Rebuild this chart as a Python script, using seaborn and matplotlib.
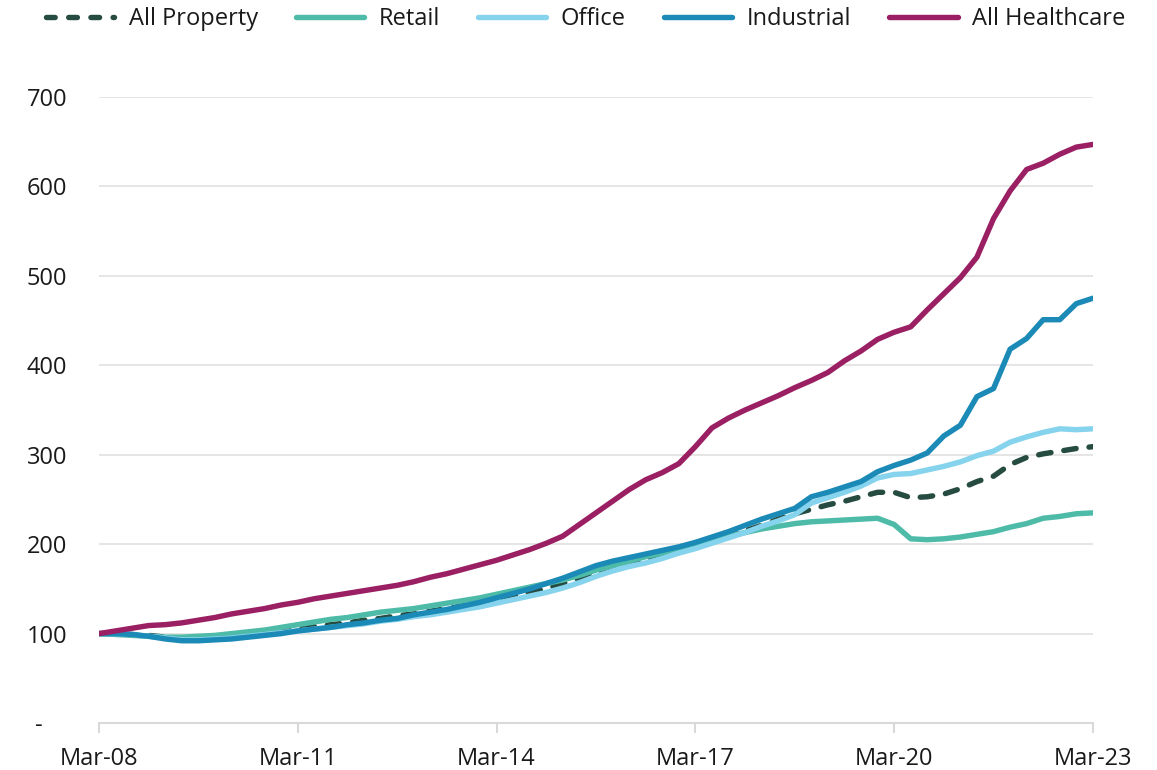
import matplotlib
matplotlib.use('Agg')
import matplotlib.pyplot as plt
import numpy as np
import pandas as pd
import seaborn as sns

# quarterly index values, Mar-08 = 100
quarters = list(range(61))
tick_pos = [0, 12, 24, 36, 48, 60]
tick_labels = ['Mar-08', 'Mar-11', 'Mar-14', 'Mar-17', 'Mar-20', 'Mar-23']

all_property = [100, 100, 99, 98, 96, 95, 95, 96, 97, 99, 101, 103, 105, 108, 110, 112,
                115, 117, 120, 122, 125, 128, 131, 134, 138, 142, 146, 150, 156, 162, 168,
                173, 178, 183, 187, 192, 197, 203, 209, 215, 221, 228, 234, 239, 244, 248,
                253, 258, 258, 252, 253, 256, 262, 270, 276, 289, 297, 301, 304, 307, 309]
retail = [100, 99, 98, 97, 96, 96, 97, 98, 100, 102, 104, 107, 110, 113, 116, 118,
          121, 124, 126, 128, 131, 134, 137, 140, 144, 148, 152, 156, 160, 165, 171,
          176, 181, 186, 190, 194, 198, 204, 209, 213, 217, 220, 223, 225, 226, 227,
          228, 229, 222, 206, 205, 206, 208, 211, 214, 219, 223, 229, 231, 234, 235]
office = [100, 100, 99, 97, 95, 93, 93, 94, 95, 97, 99, 101, 103, 105, 107, 109,
          111, 114, 116, 119, 121, 124, 127, 130, 134, 138, 142, 146, 151, 157, 164,
          170, 175, 179, 184, 190, 195, 201, 207, 213, 220, 226, 233, 246, 252, 258,
          265, 274, 278, 279, 283, 287, 292, 299, 304, 314, 320, 325, 329, 328, 329]
industrial = [100, 100, 99, 97, 94, 92, 92, 93, 94, 96, 98, 100, 103, 105, 107, 110,
              112, 115, 117, 121, 124, 127, 131, 135, 140, 145, 150, 156, 162, 169, 176,
              181, 185, 189, 193, 197, 202, 208, 214, 221, 228, 234, 240, 253, 258, 264,
              270, 281, 288, 294, 302, 321, 333, 365, 374, 418, 430, 451, 451, 469, 475]
healthcare = [100, 103, 106, 109, 110, 112, 115, 118, 122, 125, 128, 132, 135, 139, 142, 145,
              148, 151, 154, 158, 163, 167, 172, 177, 182, 188, 194, 201, 209, 222, 235,
              248, 261, 272, 280, 290, 309, 330, 341, 350, 358, 366, 375, 383, 392, 405,
              416, 429, 437, 443, 462, 480, 498, 521, 564, 595, 619, 626, 636, 644, 647]

series = {
    'All Property': all_property,
    'Retail': retail,
    'Office': office,
    'Industrial': industrial,
    'All Healthcare': healthcare,
}
colors = {
    'All Property': '#264b40',
    'Retail': '#4dbba8',
    'Office': '#86d3ed',
    'Industrial': '#1b8ab6',
    'All Healthcare': '#9a1f63',
}

df = pd.DataFrame({'quarter': quarters, **series})
long = df.melt(id_vars='quarter', var_name='sector', value_name='index')

sns.set_style('white')
plt.rcParams['font.family'] = ['Open Sans', 'DejaVu Sans']

fig = plt.figure(figsize=(11.57, 7.7), dpi=100)
ax = fig.add_axes([0.0856, 0.061, 0.859, 0.813])

sns.lineplot(data=long, x='quarter', y='index', hue='sector', palette=colors,
             hue_order=list(series.keys()), linewidth=3.9, ax=ax, legend=False)

for line, name in zip(ax.lines, series.keys()):
    line.set_solid_capstyle('round')
    line.set_solid_joinstyle('round')
    line.set_dash_capstyle('round')
    if name == 'All Property':
        line.set_dashes((2.3, 2.4))

ax.set_xlim(0, 60)
ax.set_ylim(0, 700)
ax.set_yticks(range(0, 701, 100))
ax.set_yticklabels(['-    '] + [str(v) for v in range(100, 701, 100)])
ax.set_xticks(tick_pos)
ax.set_xticklabels(tick_labels)
ax.set_xlabel('')
ax.set_ylabel('')

ax.grid(axis='y', color='#e3e3e3', linewidth=1.3)
ax.set_axisbelow(True)
for s in ['top', 'right', 'left']:
    ax.spines[s].set_visible(False)
ax.spines['bottom'].set_color('#d9d9d9')
ax.spines['bottom'].set_linewidth(1.5)
ax.tick_params(axis='x', length=7, width=1.5, color='#d9d9d9', pad=10,
               labelsize=17, labelcolor='#1a1a1a', bottom=True)
ax.tick_params(axis='y', length=0, pad=23, labelsize=17, labelcolor='#1a1a1a')

handles = []
for name in series:
    h, = ax.plot([], [], color=colors[name], linewidth=3.9,
                 solid_capstyle='round', dash_capstyle='round')
    if name == 'All Property':
        h.set_dashes((1.6, 2.5))
    handles.append(h)
fig.legend(handles, list(series.keys()), loc='upper left', bbox_to_anchor=(0.021, 1.018),
           ncol=5, frameon=False, fontsize=17, handlelength=2.9, columnspacing=1.6,
           handletextpad=0.62, labelcolor='#1a1a1a')

fig.savefig('out.png', dpi=100)
